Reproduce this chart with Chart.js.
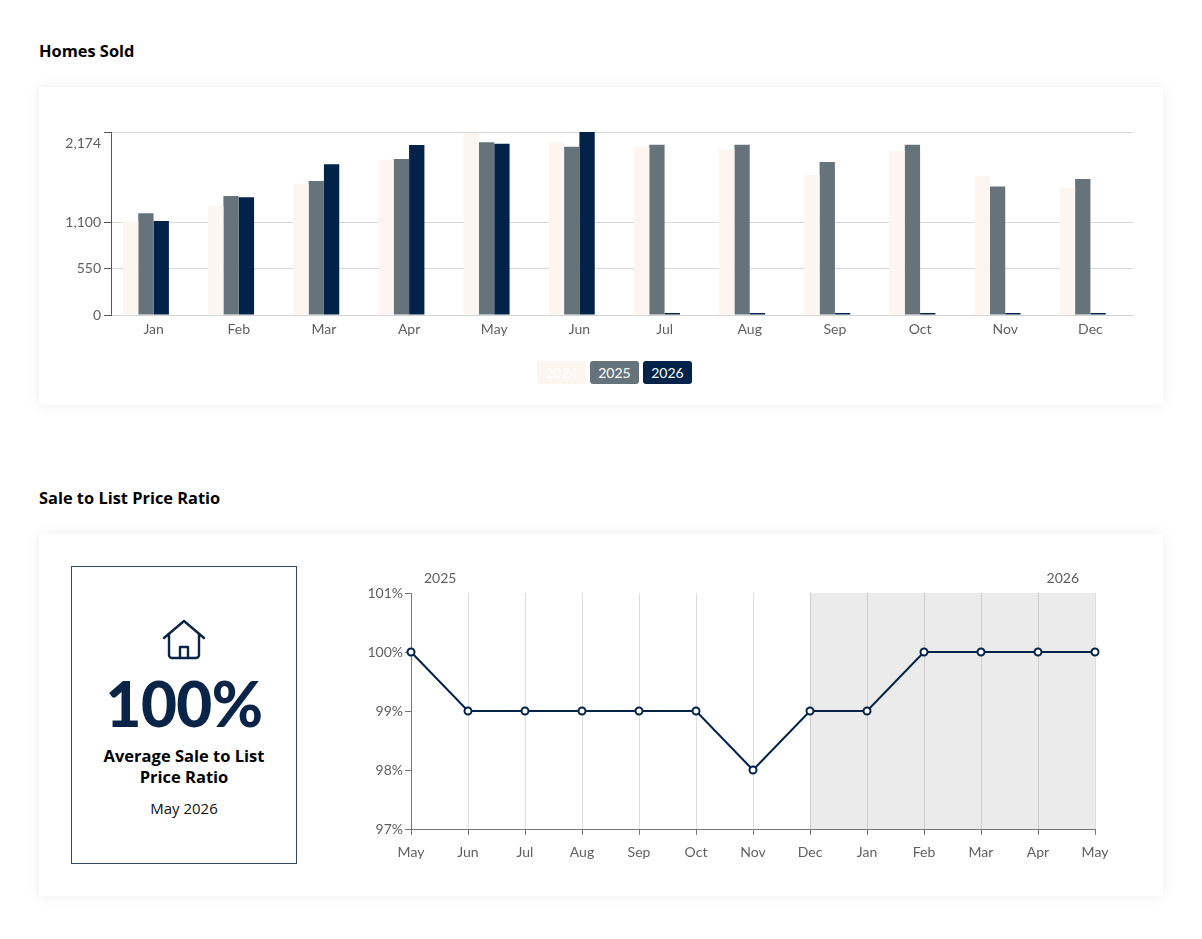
<!DOCTYPE html>
<html>
<head>
<meta charset="utf-8">
<script src="https://cdn.jsdelivr.net/npm/chart.js@4.4.1/dist/chart.umd.min.js"></script>
<style>
  body { margin: 0; background: #fff; font-family: Lato, "Open Sans", sans-serif; }
  .page { position: relative; width: 1202px; height: 939px; }
  .title { position: absolute; left: 39px; font-family: "Open Sans", sans-serif; font-weight: 700; font-size: 16.4px; color: #000; line-height: 20px; }
  .card { position: absolute; left: 39px; width: 1124px; background: #fff; box-shadow: 0 0 14px rgba(0,0,0,0.07); }
  #soldWrap { position: absolute; left: 39px; top: 87px; width: 1124px; height: 258px; }
  #legend { position: absolute; left: 537px; top: 361px; display: flex; gap: 4px; }
  #legend span { display: block; width: 49px; height: 23px; line-height: 23px; text-align: center; color: #fff; font-size: 14px; border-radius: 3px; }
  .kpi { position: absolute; left: 71px; top: 566px; width: 224px; height: 296px; border: 1px solid #34496a; text-align: center; }
  .kpi svg { position: absolute; left: 90px; top: 52px; }
  .kpi .big { position: absolute; left: 0; right: 0; top: 102px; font-size: 62px; font-weight: 900; color: #0a2447; line-height: 68px; letter-spacing: -0.5px; }
  .kpi .lbl { position: absolute; left: 0; right: 0; top: 178px; font-family: "Open Sans", sans-serif; font-size: 16.5px; font-weight: 700; color: #000; line-height: 21px; }
  .kpi .date { position: absolute; left: 0; right: 0; top: 231px; font-family: "Open Sans", sans-serif; font-size: 15px; color: #111; }
  #ratioWrap { position: absolute; left: 340px; top: 560px; width: 800px; height: 310px; }
</style>
</head>
<body>
<div class="page">
  <div class="title" style="top:41px">Homes Sold</div>
  <div class="card" style="top:87px;height:318px"></div>
  <div id="soldWrap"><canvas id="soldChart"></canvas></div>
  <div id="legend"></div>

  <div class="title" style="top:488px">Sale to List Price Ratio</div>
  <div class="card" style="top:534px;height:362px"></div>
  <div class="kpi">
    <svg width="44" height="42" viewBox="0 0 44 42" fill="none" stroke="#0a2447" stroke-width="2.4" stroke-linejoin="round" stroke-linecap="round">
      <path d="M2 19 L22 2 L42 19"/>
      <path d="M7 15 V36 a3 3 0 0 0 3 3 H34 a3 3 0 0 0 3 -3 V15"/>
      <path d="M18 39 V28 H26 V39"/>
    </svg>
    <div class="big">100%</div>
    <div class="lbl">Average Sale to List<br>Price Ratio</div>
    <div class="date">May 2026</div>
  </div>
  <div id="ratioWrap"><canvas id="ratioChart"></canvas></div>
</div>

<script>
// ===== DATA =====
const months = ["Jan", "Feb", "Mar", "Apr", "May", "Jun", "Jul", "Aug", "Sep", "Oct", "Nov", "Dec"];
const sold2024 = [1117, 1295, 1560, 1845, 2158, 2055, 2000, 1972, 1663, 1948, 1651, 1509];
const sold2025 = [1208, 1414, 1592, 1853, 2051, 2000, 2023, 2023, 1818, 2023, 1528, 1615];
const sold2026 = [1117, 1398, 1790, 2019, 2035, 2174, 0, 0, 0, 0, 0, 0];
const soldTicks = [0, 550, 1100, 2174];

const ratioMonths = ["May", "Jun", "Jul", "Aug", "Sep", "Oct", "Nov", "Dec", "Jan", "Feb", "Mar", "Apr", "May"];
const ratioValues = [100, 99, 99, 99, 99, 99, 98, 99, 99, 100, 100, 100, 100];
const ratioTicks = [97, 98, 99, 100, 101];
const shadeFrom = 7; // Dec onwards
const yearMarks = ["2025", "2026"];

const tickFont = { family: "Lato, 'Open Sans', sans-serif", size: 14 };
const tickColor = "#5f5f5f";

document.addEventListener("DOMContentLoaded", function () {

    // ===== HOMES SOLD =====
    const soldChart = new Chart(document.getElementById("soldChart"), {
        type: "bar",
        data: {
            labels: months,
            datasets: [
                { label: "2024", data: sold2024, backgroundColor: "#fdf5ef" },
                { label: "2025", data: sold2025, backgroundColor: "#67737b" },
                { label: "2026", data: sold2026, backgroundColor: "#022349" },
                // empty slot, keeps the groups left of centre like the original
                { label: "", data: [], backgroundColor: "transparent" }
            ]
        },
        options: {
            responsive: true,
            maintainAspectRatio: false,
            animation: false,
            layout: { padding: { top: 45, right: 30, left: 0, bottom: 0 } },
            plugins: { legend: { display: false }, tooltip: { enabled: false } },
            datasets: { bar: { barPercentage: 1, categoryPercentage: 0.72, minBarLength: 2 } },
            scales: {
                x: {
                    grid: { display: false, drawTicks: false },
                    border: { color: "#d4d4d4" },
                    ticks: { color: tickColor, font: tickFont, padding: 6 },
                    afterFit: function (s) { s.height = 30; }
                },
                y: {
                    min: 0,
                    max: 2174,
                    afterBuildTicks: function (s) { s.ticks = soldTicks.map(v => ({ value: v })); },
                    grid: { color: "#d9d9d9", tickColor: "#555", tickLength: 7 },
                    border: { color: "#555" },
                    ticks: {
                        color: tickColor,
                        font: Object.assign({}, tickFont, { lineHeight: 1.6 }),
                        padding: 3,
                        callback: function (v) {
                            const t = v.toLocaleString("en-US");
                            return v === 2174 ? ["", t] : t;
                        }
                    },
                    afterFit: function (s) { s.width = 72; }
                }
            }
        }
    });

    // html legend
    const legend = document.getElementById("legend");
    soldChart.data.datasets.forEach(function (ds) {
        if (!ds.label) return;
        const el = document.createElement("span");
        el.textContent = ds.label;
        el.style.background = ds.backgroundColor;
        legend.appendChild(el);
    });

    // ===== SALE TO LIST RATIO =====
    const shadePlugin = {
        id: "shade",
        beforeDraw: function (chart) {
            const x = chart.scales.x, a = chart.chartArea, ctx = chart.ctx;
            const x0 = x.getPixelForValue(shadeFrom);
            const x1 = x.getPixelForValue(ratioMonths.length - 1);
            ctx.save();
            ctx.fillStyle = "#ebebeb";
            ctx.fillRect(x0, a.top, x1 - x0, a.bottom - a.top);
            ctx.restore();
        },
        afterDraw: function (chart) {
            const x = chart.scales.x, a = chart.chartArea, ctx = chart.ctx;
            ctx.save();
            ctx.font = "14px Lato, 'Open Sans', sans-serif";
            ctx.fillStyle = tickColor;
            ctx.textBaseline = "middle";
            ctx.textAlign = "left";
            ctx.fillText(yearMarks[0], x.getPixelForValue(0) + 13, a.top - 15);
            ctx.textAlign = "right";
            ctx.fillText(yearMarks[1], x.getPixelForValue(ratioMonths.length - 1) - 16, a.top - 15);
            ctx.restore();
        }
    };

    new Chart(document.getElementById("ratioChart"), {
        type: "line",
        data: {
            labels: ratioMonths,
            datasets: [{
                label: "Sale to List Price Ratio",
                data: ratioValues,
                borderColor: "#022349",
                borderWidth: 2,
                tension: 0,
                pointRadius: 3.5,
                pointBorderWidth: 2,
                pointBackgroundColor: "#fff",
                pointBorderColor: "#022349"
            }]
        },
        plugins: [shadePlugin],
        options: {
            responsive: true,
            maintainAspectRatio: false,
            animation: false,
            layout: { padding: { top: 33, right: 45, left: 0, bottom: 0 } },
            plugins: { legend: { display: false }, tooltip: { enabled: false } },
            scales: {
                x: {
                    grid: { color: "rgba(0,0,0,0.13)", tickColor: "#777", tickLength: 6 },
                    border: { color: "#777" },
                    ticks: { color: tickColor, font: tickFont, padding: 9, maxRotation: 0, autoSkip: false },
                    afterFit: function (s) { s.height = 41; }
                },
                y: {
                    min: 97,
                    max: 101,
                    afterBuildTicks: function (s) { s.ticks = ratioTicks.map(v => ({ value: v })); },
                    grid: { drawOnChartArea: false, tickColor: "#777", tickLength: 6 },
                    border: { color: "#777" },
                    ticks: {
                        color: tickColor,
                        font: tickFont,
                        padding: 2,
                        callback: function (v) { return v + "%"; }
                    },
                    afterFit: function (s) { s.width = 71; }
                }
            }
        }
    });

});
</script>
</body>
</html>
